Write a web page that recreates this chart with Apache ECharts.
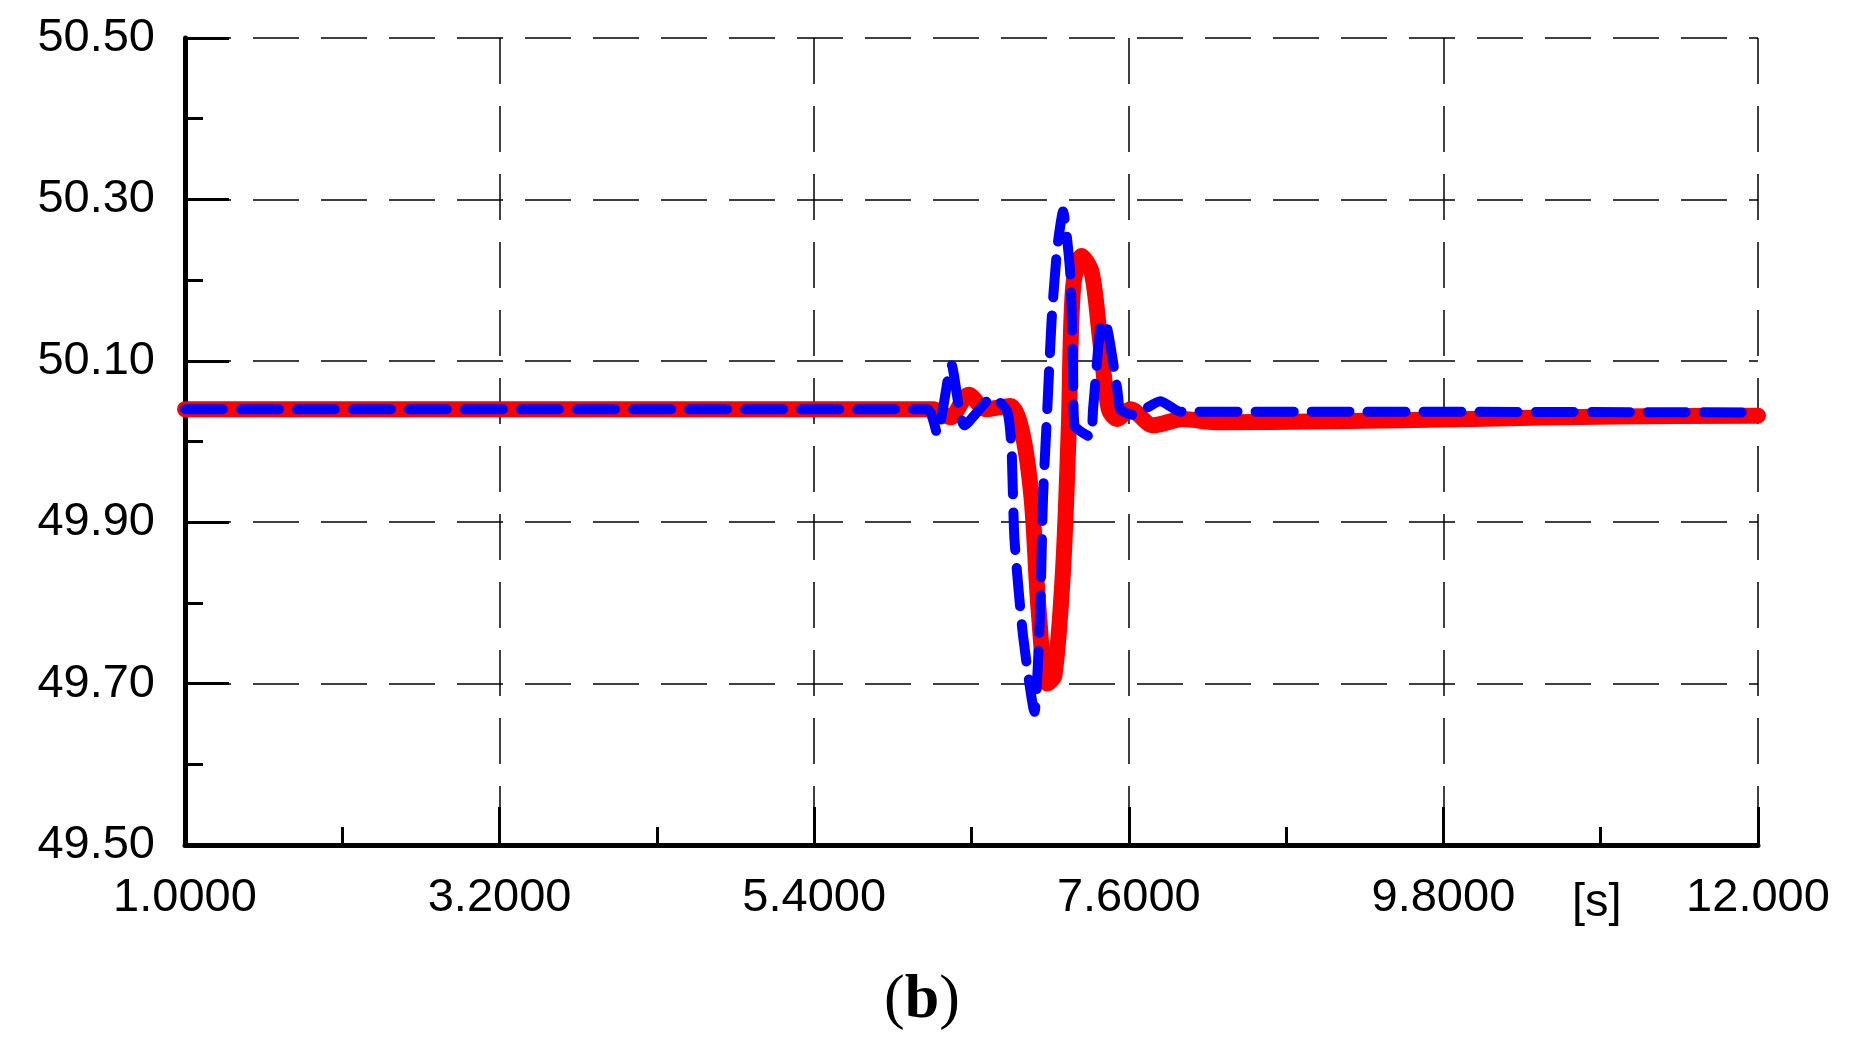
<!DOCTYPE html>
<html><head><meta charset="utf-8">
<script src="https://cdn.jsdelivr.net/npm/echarts@6/dist/echarts.min.js"></script>
<style>html,body{margin:0;padding:0;background:#fff}#c{width:1850px;height:1054px}</style>
</head><body><div id="c"></div>
<script>
const xMajor = [1.0, 3.2, 5.4, 7.6, 9.8, 12.0];
const xMajorLabels = ['1.0000', '3.2000', '5.4000', '7.6000', '9.8000', '12.000'];
const xMinor = [2.1, 4.3, 6.5, 8.7, 10.9];
const yMajor = [49.5, 49.7, 49.9, 50.1, 50.3, 50.5];
const yMajorLabels = ['49.50', '49.70', '49.90', '50.10', '50.30', '50.50'];
const yMinor = [49.6, 49.8, 50.0, 50.2, 50.4];

const redT = [1.0, 6.23, 6.35, 6.48, 6.6, 6.77, 6.85, 6.92, 6.97, 7.03, 7.08, 7.14, 7.18, 7.21, 7.27, 7.34, 7.40, 7.46, 7.52, 7.61, 7.77, 7.98, 8.2, 9.0, 10.0, 11.0, 12.0];
const redV = [50.04, 50.04, 50.03, 50.058, 50.04, 50.044, 50.015, 49.93, 49.79, 49.70, 49.71, 49.84, 50.015, 50.19, 50.23, 50.21, 50.125, 50.04, 50.028, 50.04, 50.02, 50.028, 50.024, 50.025, 50.028, 50.031, 50.032];
const blueT = [1.0, 6.19, 6.26, 6.36, 6.45, 6.65, 6.75, 6.78, 6.80, 6.86, 6.94, 6.98, 7.0, 7.03, 7.06, 7.10, 7.14, 7.19, 7.21, 7.22, 7.33, 7.35, 7.40, 7.43, 7.52, 7.54, 7.63, 7.82, 7.96, 9.0, 12.0];
const blueV = [50.04, 50.04, 50.01, 50.095, 50.02, 50.055, 50.037, 49.99, 49.88, 49.76, 49.665, 49.79, 49.93, 50.04, 50.15, 50.24, 50.285, 50.21, 50.095, 50.02, 50.006, 50.04, 50.14, 50.15, 50.064, 50.04, 50.033, 50.05, 50.037, 50.037, 50.036];

const zip = (a, b) => a.map((t, i) => [t, b[i]]);
const font = 'Liberation Sans, Arial, sans-serif';
const grid = {left: 185, right: 92, top: 38, bottom: 209};
const dashGrid = {show: true, lineStyle: {color: '#000', width: 1.5, type: [46, 22]}};

const chart = echarts.init(document.getElementById('c'), null, {renderer: 'canvas'});
chart.setOption({
  animation: false,
  grid: grid,
  xAxis: [
    {type: 'value', min: 1, max: 12, position: 'bottom',
     axisLine: {show: true, onZero: false, lineStyle: {color: '#000', width: 5}},
     axisTick: {show: true, inside: true, length: 38, lineStyle: {color: '#000', width: 3}, customValues: xMajor},
     axisLabel: {show: true, customValues: xMajor, color: '#000', fontSize: 47, fontFamily: font, margin: 30,
       formatter: v => xMajorLabels[xMajor.findIndex(m => Math.abs(m - v) < 1e-6)] || ''},
     splitLine: dashGrid},
    {type: 'value', min: 1, max: 12, position: 'bottom', gridIndex: 0,
     axisLine: {show: false},
     axisTick: {show: true, inside: true, length: 18, lineStyle: {color: '#000', width: 3}, customValues: xMinor},
     axisLabel: {show: false}, splitLine: {show: false}}
  ],
  yAxis: [
    {type: 'value', min: 49.5, max: 50.5,
     axisLine: {show: true, onZero: false, lineStyle: {color: '#000', width: 5}},
     axisTick: {show: true, inside: true, length: 44, lineStyle: {color: '#000', width: 3}, customValues: yMajor},
     axisLabel: {show: true, customValues: yMajor, color: '#000', fontSize: 47, fontFamily: font, margin: 30,
       formatter: v => yMajorLabels[yMajor.findIndex(m => Math.abs(m - v) < 1e-6)] || ''},
     splitLine: dashGrid},
    {type: 'value', min: 49.5, max: 50.5, position: 'left', gridIndex: 0,
     axisLine: {show: false},
     axisTick: {show: true, inside: true, length: 18, lineStyle: {color: '#000', width: 3}, customValues: yMinor},
     axisLabel: {show: false}, splitLine: {show: false}}
  ],
  series: [
    {type: 'line', data: zip(redT, redV), showSymbol: false, smooth: 0.3, z: 2,
     lineStyle: {color: '#ff0000', width: 16, cap: 'round', join: 'round'}},
    {type: 'line', data: zip(blueT, blueV), showSymbol: false, smooth: 0.2, z: 3,
     lineStyle: {color: '#0000ff', width: 10, type: [38, 18], cap: 'round', join: 'round'}}
  ],
  graphic: [
    {type: 'text', left: 1572, top: 880, style: {text: '[s]', fontSize: 47, fontFamily: font, fill: '#000'}},
    {type: 'text', left: 884, top: 970, style: {rich: {p: {fontSize: 62, fontFamily: 'Liberation Serif, serif', fill: '#000'}, b: {fontSize: 62, fontWeight: 'bold', fontFamily: 'Liberation Serif, serif', fill: '#000'}}, text: '{p|(}{b|b}{p|)}'}}
  ]
});
</script></body></html>
